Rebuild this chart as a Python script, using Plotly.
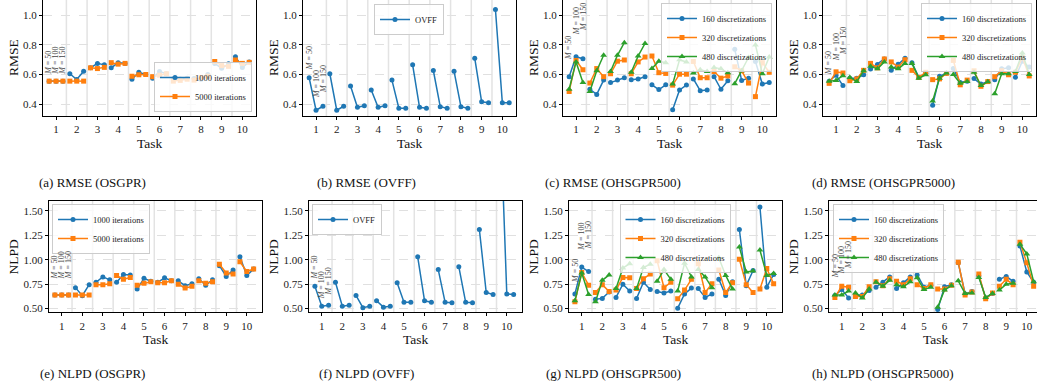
import plotly.graph_objects as go

# ---------------- data ----------------
tasks = list(range(1, 11))
m_values = [50, 100, 150]
m_offsets = [-1/3, 0.0, 1/3]

# (a) RMSE (OSGPR)
a_1000 = [[0.555,0.555,0.555],[0.605,0.566,0.622],[0.645,0.675,0.665],[0.645,0.68,0.675],[0.568,0.615,0.6],
          [0.575,0.62,0.605],[0.572,0.57,0.575],[0.572,0.568,0.6],[0.675,0.642,0.672],[0.72,0.648,0.685]]
a_5000 = [[0.555,0.555,0.555],[0.555,0.555,0.555],[0.645,0.64,0.648],[0.68,0.67,0.675],[0.588,0.598,0.6],
          [0.585,0.595,0.605],[0.555,0.56,0.568],[0.562,0.58,0.588],[0.688,0.66,0.655],[0.698,0.675,0.682]]
# (b) RMSE (OVFF)
b_ovff = [[0.578,0.358,0.385],[0.605,0.358,0.385],[0.522,0.378,0.388],[0.495,0.378,0.388],[0.562,0.372,0.372],
          [0.665,0.378,0.372],[0.627,0.382,0.372],[0.622,0.382,0.372],[0.71,0.415,0.408],[1.04,0.408,0.408]]
# (c) RMSE (OHSGPR500)
c_160 = [[0.585,0.72,0.707],[0.5,0.465,0.562],[0.545,0.562,0.578],[0.565,0.57,0.585],[0.53,0.498,0.53],
         [0.362,0.495,0.528],[0.57,0.49,0.495],[0.585,0.5,0.558],[0.77,0.56,0.575],[0.688,0.535,0.545]]
c_320 = [[0.485,0.695,0.632],[0.542,0.64,0.585],[0.605,0.69,0.698],[0.605,0.685,0.718],[0.725,0.612,0.607],
         [0.528,0.602,0.602],[0.688,0.578,0.578],[0.62,0.575,0.59],[0.652,0.625,0.542],[0.45,0.68,0.615]]
c_480 = [[0.5,0.685,0.545],[0.485,0.625,0.73],[0.62,0.73,0.815],[0.615,0.725,0.81],[0.64,0.69,0.68],
         [0.535,0.7,0.685],[0.61,0.632,0.62],[0.648,0.638,0.612],[0.538,0.625,0.715],[0.8,0.605,0.718]]
# (d) RMSE (OHSGPR5000)
d_160 = [[0.555,0.595,0.525],[0.575,0.575,0.598],[0.637,0.668,0.705],[0.628,0.67,0.71],[0.68,0.58,0.608],
         [0.392,0.588,0.608],[0.64,0.545,0.555],[0.572,0.535,0.552],[0.565,0.638,0.645],[0.582,0.69,0.65]]
d_320 = [[0.54,0.618,0.61],[0.558,0.57,0.628],[0.675,0.645,0.705],[0.685,0.65,0.7],[0.628,0.58,0.615],
         [0.565,0.57,0.608],[0.695,0.53,0.562],[0.625,0.52,0.552],[0.585,0.625,0.598],[0.615,0.715,0.59]]
d_480 = [[0.555,0.56,0.592],[0.58,0.552,0.625],[0.655,0.638,0.685],[0.65,0.638,0.675],[0.675,0.575,0.598],
         [0.42,0.575,0.61],[0.6,0.54,0.552],[0.615,0.525,0.55],[0.47,0.605,0.605],[0.62,0.745,0.6]]
# (e) NLPD (OSGPR)
e_1000 = [[0.64,0.64,0.64],[0.715,0.632,0.745],[0.77,0.825,0.795],[0.77,0.85,0.845],[0.7,0.81,0.78],
          [0.77,0.815,0.785],[0.785,0.735,0.755],[0.805,0.74,0.795],[0.94,0.83,0.895],[1.03,0.84,0.905]]
e_5000 = [[0.64,0.64,0.64],[0.64,0.64,0.64],[0.745,0.745,0.755],[0.84,0.8,0.82],[0.74,0.76,0.775],
          [0.765,0.765,0.785],[0.75,0.71,0.73],[0.785,0.76,0.775],[0.955,0.865,0.855],[0.98,0.88,0.905]]
# (f) NLPD (OVFF)
f_ovff = [[0.73,0.525,0.535],[0.77,0.525,0.535],[0.635,0.51,0.525],[0.58,0.515,0.525],[0.765,0.565,0.565],
          [1.03,0.58,0.565],[0.9,0.565,0.56],[0.93,0.565,0.56],[1.31,0.665,0.645],[2.6,0.65,0.645]]
# (g) NLPD (OHSGPR500)
g_160 = [[0.65,0.925,0.88],[0.595,0.605,0.67],[0.615,0.75,0.68],[0.605,0.77,0.695],[0.675,0.66,0.68],
         [0.505,0.65,0.71],[0.705,0.615,0.65],[0.8,0.635,0.775],[1.31,0.735,0.89],[1.54,0.72,0.85]]
g_320 = [[0.57,0.87,0.74],[0.665,0.745,0.675],[0.69,0.82,0.815],[0.705,0.805,0.855],[0.99,0.715,0.77],
         [0.6,0.69,0.8],[0.96,0.665,0.755],[0.895,0.665,0.765],[1.005,0.745,0.665],[0.7,0.91,0.755]]
g_480 = [[0.58,0.865,0.645],[0.57,0.79,0.845],[0.705,0.915,0.96],[0.705,0.92,0.955],[0.78,0.9,0.8],
         [0.68,0.965,0.825],[0.9,0.825,0.715],[1.02,0.84,0.7],[1.13,0.875,0.885],[1.1,0.84,0.86]]
# (h) NLPD (OHSGPR5000)
h_160 = [[0.635,0.695,0.61],[0.64,0.64,0.685],[0.72,0.77,0.825],[0.705,0.765,0.825],[0.845,0.72,0.74],
         [0.49,0.725,0.745],[0.97,0.65,0.675],[0.835,0.61,0.655],[0.8,0.83,0.78],[1.14,0.875,0.77]]
h_320 = [[0.615,0.73,0.72],[0.625,0.625,0.725],[0.775,0.735,0.805],[0.78,0.745,0.805],[0.745,0.705,0.745],
         [0.7,0.7,0.74],[0.975,0.64,0.67],[0.855,0.6,0.66],[0.73,0.8,0.745],[1.18,0.97,0.73]]
h_480 = [[0.64,0.64,0.68],[0.66,0.61,0.7],[0.77,0.73,0.79],[0.745,0.725,0.775],[0.815,0.695,0.72],
         [0.515,0.69,0.735],[0.785,0.655,0.66],[0.82,0.615,0.655],[0.69,0.75,0.76],[1.16,1.06,0.775]]

rmse_ticks = [0.4, 0.6, 0.8, 1.0]
rmse_tick_text = ["0.4", "0.6", "0.8", "1.0"]
nlpd_ticks = [0.5, 0.75, 1.0, 1.25, 1.5]
nlpd_tick_text = ["0.50", "0.75", "1.00", "1.25", "1.50"]

iter_names = ["1000 iterations", "5000 iterations"]
disc_names = ["160 discretizations", "320 discretizations", "480 discretizations"]

captions = ["(a) RMSE (OSGPR)", "(b) RMSE (OVFF)", "(c) RMSE (OHSGPR500)", "(d) RMSE (OHSGPR5000)",
            "(e) NLPD (OSGPR)", "(f) NLPD (OVFF)", "(g) NLPD (OHSGPR500)", "(h) NLPD (OHSGPR5000)"]

panels = [
    dict(metric="RMSE", series=list(zip(iter_names, [a_1000, a_5000]))),
    dict(metric="RMSE", series=[("OVFF", b_ovff)]),
    dict(metric="RMSE", series=list(zip(disc_names, [c_160, c_320, c_480]))),
    dict(metric="RMSE", series=list(zip(disc_names, [d_160, d_320, d_480]))),
    dict(metric="NLPD", series=list(zip(iter_names, [e_1000, e_5000]))),
    dict(metric="NLPD", series=[("OVFF", f_ovff)]),
    dict(metric="NLPD", series=list(zip(disc_names, [g_160, g_320, g_480]))),
    dict(metric="NLPD", series=list(zip(disc_names, [h_160, h_320, h_480]))),
]

# ---------------- styling / layout ----------------
W, H = 1037, 391
COLORS = ["#1f77b4", "#ff7f0e", "#2ca02c"]
SYMBOLS = ["circle", "square", "triangle-up"]
MSIZE = [5, 5, 6]
SERIF = "Liberation Serif"
PW = 213
row_left = [[43, 303, 563, 823], [49, 309, 569, 829]]
row_top = [0, 200.7]
row_bottom = [116, 312.3]
row_xscale = [20.7, 20.56]          # px per task unit
row_xstart = [0.37, 0.38]
row_yrange = [[0.319, 1.104], [0.4625, 1.605]]
row_task_y = [143, 339]
caption_cx = [92, 366, 613, 883]
caption_cy = [183, 373]

# M-label baselines (annotation positions, data units) per panel
m_label_y = [[0.585, 0.585, 0.585], [0.616, 0.427, 0.46], [0.686, 0.853, 0.88], [0.583, 0.677, 0.718],
             [0.776, 0.776, 0.776], [0.776, 0.572, 0.61], [0.742, 1.07, 1.083], [0.79, 0.83, 0.88]]

# legend placement: (x_px, y_px, xanchor, yanchor)
legend_pos = [(252, 112, "right", "bottom"), (409, 4, "center", "top"), (772, 3, "right", "top"),
              (1032, 3, "right", "top"), (52, 204, "left", "top"), (312, 204, "left", "top"),
              (675, 204, "center", "top"), (833, 204, "left", "top")]

fig = go.Figure()
layout = dict(width=W, height=H, margin=dict(l=0, r=0, t=0, b=0, pad=0, autoexpand=False),
              paper_bgcolor="white", plot_bgcolor="white", showlegend=True)
shapes, annotations = [], []

for i, p in enumerate(panels):
    row, col = divmod(i, 4)
    n = i + 1
    sfx = "" if n == 1 else str(n)
    left = row_left[row][col]
    right = min(left + PW, W)
    xr = [row_xstart[row], row_xstart[row] + (right - left) / row_xscale[row]]
    legname = "legend" if n == 1 else f"legend{n}"

    for k, (name, vals) in enumerate(p["series"]):
        xs, ys = [], []
        for t, triple in zip(tasks, vals):
            for off, v in zip(m_offsets, triple):
                xs.append(t + off)
                ys.append(v)
            xs.append(None)
            ys.append(None)
        fig.add_trace(go.Scatter(
            x=xs, y=ys, mode="lines+markers", name=name, connectgaps=False,
            line=dict(color=COLORS[k], width=1.5),
            marker=dict(symbol=SYMBOLS[k], size=MSIZE[k], color=COLORS[k]),
            xaxis=f"x{sfx}", yaxis=f"y{sfx}", legend=legname, cliponaxis=True))

    is_rmse = p["metric"] == "RMSE"
    layout[f"xaxis{sfx}"] = dict(
        domain=[left / W, right / W], range=xr, anchor=f"y{sfx}", automargin=False,
        tickmode="array", tickvals=tasks, ticktext=[str(t) for t in tasks],
        showgrid=False, zeroline=False, showline=True, linecolor="black", linewidth=1,
        mirror=(row == 1), ticks="outside", ticklen=3, tickcolor="black",
        tickfont=dict(family=SERIF, size=11, color="#222"))
    layout[f"yaxis{sfx}"] = dict(
        domain=[1 - row_bottom[row] / H, 1 - row_top[row] / H], range=row_yrange[row],
        anchor=f"x{sfx}", automargin=False, tickmode="array",
        tickvals=rmse_ticks if is_rmse else nlpd_ticks,
        ticktext=rmse_tick_text if is_rmse else nlpd_tick_text,
        showgrid=True, gridcolor="#e0e0e0", griddash="dash", gridwidth=1,
        zeroline=False, showline=True, linecolor="black", linewidth=1,
        mirror=(i != 7), ticks="outside", ticklen=3, tickcolor="black",
        tickfont=dict(family=SERIF, size=11, color="#222"))

    # task boundary separators
    for t in tasks[:-1]:
        shapes.append(dict(type="line", xref=f"x{sfx}", yref=f"y{sfx} domain",
                           x0=t + 0.5, x1=t + 0.5, y0=0, y1=1, layer="below",
                           line=dict(color="#e3e3e3", width=1.5)))

    # M labels
    for off, m, yv in zip(m_offsets, m_values, m_label_y[i]):
        annotations.append(dict(xref=f"x{sfx}", yref=f"y{sfx}", x=1 + off, y=yv,
                                text=f"<i>M</i> = {m}", textangle=-90, showarrow=False,
                                xanchor="center", yanchor="bottom",
                                font=dict(family=SERIF, size=8, color="#444")))

    # axis titles
    ycen = 1 - (row_top[row] + row_bottom[row]) / 2 / H
    annotations.append(dict(xref="paper", yref="paper", x=(left - (30 if row == 0 else 36)) / W, y=ycen,
                            text=p["metric"], textangle=-90, showarrow=False,
                            xanchor="center", yanchor="middle",
                            font=dict(family=SERIF, size=13.5, color="#111")))
    annotations.append(dict(xref="paper", yref="paper", x=(left + PW / 2) / W,
                            y=1 - row_task_y[row] / H, text="Task", showarrow=False,
                            xanchor="center", yanchor="middle",
                            font=dict(family=SERIF, size=13.5, color="#111")))
    # caption
    annotations.append(dict(xref="paper", yref="paper", x=caption_cx[col] / W,
                            y=1 - caption_cy[row] / H, text=captions[i], showarrow=False,
                            xanchor="center", yanchor="middle",
                            font=dict(family=SERIF, size=13, color="#111")))

    lx, ly, xa, ya = legend_pos[i]
    layout[legname] = dict(x=lx / W, y=1 - ly / H, xanchor=xa, yanchor=ya, xref="paper", yref="paper",
                           bgcolor="rgba(255,255,255,0.8)", bordercolor="#cccccc", borderwidth=1,
                           font=dict(family=SERIF, size=8.5, color="#222"), itemwidth=30,
                           tracegroupgap=0)

layout["shapes"] = shapes
layout["annotations"] = annotations
fig.update_layout(**layout)
fig.write_html("out.html", config={"responsive": False, "displayModeBar": False},
               post_script="document.body.style.margin='0px';document.body.style.overflow='hidden';")
